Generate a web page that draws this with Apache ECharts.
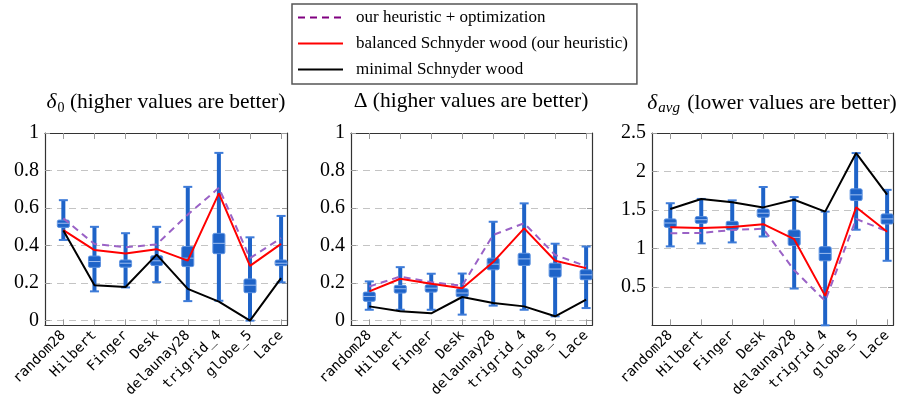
<!DOCTYPE html>
<html><head><meta charset="utf-8">
<script src="https://cdn.jsdelivr.net/npm/echarts@6/dist/echarts.min.js"></script>
<style>html,body{margin:0;padding:0;background:#fff}#c{width:902px;height:400px}</style>
</head><body><div id="c"></div>
<script>
const categories = ['random28','Hilbert','Finger','Desk','delaunay28','trigrid_4','globe_5','Lace'];
const seriesNames = ['our heuristic + optimization','balanced Schnyder wood (our heuristic)','minimal Schnyder wood'];

// Panel 1: delta_0
const d0Min  = [0.430, 0.156, 0.177, 0.205, 0.104, 0.106, 0.000, 0.204];
const d0Q1   = [0.497, 0.284, 0.285, 0.294, 0.288, 0.357, 0.149, 0.293];
const d0Med  = [0.519, 0.315, 0.306, 0.319, 0.333, 0.412, 0.189, 0.306];
const d0Q3   = [0.536, 0.344, 0.323, 0.346, 0.395, 0.465, 0.222, 0.323];
const d0Max  = [0.642, 0.500, 0.466, 0.500, 0.713, 0.894, 0.444, 0.558];
const d0Opt  = [0.545, 0.408, 0.391, 0.406, 0.565, 0.708, 0.333, 0.440];
const d0Bal  = [0.482, 0.376, 0.358, 0.381, 0.320, 0.678, 0.292, 0.409];
const d0Minm = [0.480, 0.188, 0.179, 0.352, 0.169, 0.101, 0.000, 0.227];

// Panel 2: Delta
const DMin  = [0.058, 0.058, 0.058, 0.032, 0.080, 0.058, 0.023, 0.067];
const DQ1   = [0.103, 0.147, 0.152, 0.127, 0.271, 0.294, 0.232, 0.218];
const DMed  = [0.129, 0.170, 0.173, 0.147, 0.301, 0.329, 0.275, 0.244];
const DQ3   = [0.152, 0.188, 0.191, 0.170, 0.333, 0.359, 0.306, 0.271];
const DMax  = [0.209, 0.285, 0.250, 0.251, 0.527, 0.625, 0.410, 0.395];
const DOpt  = [0.182, 0.235, 0.205, 0.186, 0.457, 0.519, 0.350, 0.290];
const DBal  = [0.156, 0.223, 0.196, 0.173, 0.312, 0.492, 0.319, 0.280];
const DMinm = [0.076, 0.050, 0.039, 0.126, 0.094, 0.076, 0.023, 0.112];

// Panel 3: delta_avg
const daMin  = [1.026, 1.065, 1.078, 1.155, 0.478, 0.000, 1.243, 0.839];
const daQ1   = [1.274, 1.326, 1.240, 1.406, 1.038, 0.839, 1.622, 1.317];
const daMed  = [1.330, 1.373, 1.296, 1.457, 1.143, 0.935, 1.696, 1.383];
const daQ3   = [1.383, 1.413, 1.352, 1.511, 1.238, 1.022, 1.774, 1.448];
const daMax  = [1.587, 1.643, 1.624, 1.798, 1.667, 1.478, 2.239, 1.761];
const daOpt  = [1.198, 1.200, 1.239, 1.255, 0.717, 0.317, 1.383, 1.222];
const daBal  = [1.274, 1.264, 1.277, 1.315, 1.120, 0.383, 1.535, 1.217];
const daMinm = [1.513, 1.643, 1.600, 1.533, 1.633, 1.478, 2.239, 1.700];

const yTicks01 = [0, 0.2, 0.4, 0.6, 0.8, 1];
const yTicksAvg = [0.5, 1, 1.5, 2, 2.5];
const catIdx = categories.map((c, i) => i);

const SERIF = "Liberation Serif";
const MONO = "DejaVu Sans Mono";
const BOX = '#1e63c8', EDGE = '#5a90e0', CAP = '#3d7bd8', MED = '#9dbdf0';
const C_OPT = '#9a62c6', C_BAL = '#ff0000', C_MIN = '#000000';

const panels = [
  {left: 45, width: 242, ymin: -0.025, ymax: 1, ticks: yTicks01,
   box: [d0Min, d0Q1, d0Med, d0Q3, d0Max], lines: [d0Opt, d0Bal, d0Minm]},
  {left: 351, width: 241, ymin: -0.025, ymax: 1, ticks: yTicks01,
   box: [DMin, DQ1, DMed, DQ3, DMax], lines: [DOpt, DBal, DMinm]},
  {left: 652, width: 241, ymin: 0, ymax: 2.5, ticks: yTicksAvg, interval: 0.5,
   box: [daMin, daQ1, daMed, daQ3, daMax], lines: [daOpt, daBal, daMinm]}
];

const grid = [], xAxis = [], yAxis = [], series = [];
const tickStyle = {color: '#9a9a9a', width: 1};
panels.forEach((p, k) => {
  grid.push({left: p.left, width: p.width, top: 133, height: 193, show: false});
  const xBase = {type: 'value', gridIndex: k, min: -0.59, max: 7.19,
    splitLine: {show: false},
    axisLine: {show: true, onZero: false, lineStyle: {color: '#333', width: 1.2}},
    axisTick: {show: true, inside: true, length: 6, customValues: catIdx, lineStyle: tickStyle}};
  xAxis.push(Object.assign({}, xBase, {position: 'bottom',
    axisLabel: {show: true, customValues: catIdx, rotate: 45, margin: 8,
      fontFamily: MONO, fontSize: 14, color: '#000',
      formatter: v => categories[Math.round(v)]}}));
  xAxis.push(Object.assign({}, xBase, {position: 'top', axisLabel: {show: false}}));
  const yBase = {type: 'value', gridIndex: k, min: p.ymin, max: p.ymax,
    axisLine: {show: true, onZero: false, lineStyle: {color: '#333', width: 1.2}},
    axisTick: {show: true, inside: true, length: 5, customValues: p.ticks, lineStyle: tickStyle}};
  if (p.interval) yBase.interval = p.interval;
  yAxis.push(Object.assign({}, yBase, {position: 'left',
    splitLine: {show: true, lineStyle: {color: '#c4c4c4', width: 1, type: [7, 5]}},
    axisLabel: {show: true, customValues: p.ticks, margin: 6, fontFamily: SERIF,
      fontSize: 20, color: '#000', formatter: v => String(Math.round(v * 10) / 10)}}));
  yAxis.push(Object.assign({}, yBase, {position: 'right', splitLine: {show: false}, axisLabel: {show: false}}));

  const boxData = categories.map((c, i) => [i, p.box[0][i], p.box[1][i], p.box[2][i], p.box[3][i], p.box[4][i]]);
  series.push({
    type: 'custom', xAxisIndex: 2 * k, yAxisIndex: 2 * k, clip: false, z: 2,
    encode: {x: 0, y: [1, 2, 3, 4, 5]},
    data: boxData,
    renderItem: function (params, api) {
      const x = api.value(0);
      const pMin = api.coord([x, api.value(1)]);
      const pQ1 = api.coord([x, api.value(2)]);
      const pMed = api.coord([x, api.value(3)]);
      const pQ3 = api.coord([x, api.value(4)]);
      const pMax = api.coord([x, api.value(5)]);
      const cx = pMin[0], bw = 12, cw = 9;
      return {type: 'group', children: [
        {type: 'line', shape: {x1: cx, y1: pMin[1], x2: cx, y2: pMax[1]}, style: {stroke: BOX, lineWidth: 4}},
        {type: 'line', shape: {x1: cx - cw / 2, y1: pMin[1], x2: cx + cw / 2, y2: pMin[1]}, style: {stroke: CAP, lineWidth: 2}},
        {type: 'line', shape: {x1: cx - cw / 2, y1: pMax[1], x2: cx + cw / 2, y2: pMax[1]}, style: {stroke: CAP, lineWidth: 2}},
        {type: 'rect', shape: {x: cx - bw / 2, y: pQ3[1], width: bw, height: pQ1[1] - pQ3[1], r: 1.5}, style: {fill: BOX, stroke: EDGE, lineWidth: 1}},
        {type: 'line', shape: {x1: cx - bw / 2, y1: pMed[1], x2: cx + bw / 2, y2: pMed[1]}, style: {stroke: MED, lineWidth: 1}}
      ]};
    }
  });
  const colors = [C_OPT, C_BAL, C_MIN];
  const types = [[7, 5], 'solid', 'solid'];
  p.lines.forEach((arr, j) => {
    series.push({
      type: 'line', name: seriesNames[j], xAxisIndex: 2 * k, yAxisIndex: 2 * k, z: 3 + j,
      symbol: 'none', silent: true, animation: false,
      data: arr.map((v, i) => [i, v]),
      lineStyle: {color: colors[j], width: 2, type: types[j]},
      itemStyle: {color: colors[j]}
    });
  });
});

const TF = 21.5;
const titleRich = {
  m: {fontFamily: SERIF, fontSize: TF, fontWeight: 'normal', color: '#000'},
  g: {fontFamily: SERIF, fontSize: TF, fontWeight: 'normal', fontStyle: 'italic', color: '#000'},
  s: {fontFamily: SERIF, fontSize: 14, fontWeight: 'normal', color: '#000', padding: [11, 0, 0, 1]},
  si: {fontFamily: SERIF, fontSize: 15, fontWeight: 'normal', fontStyle: 'italic', color: '#000', padding: [11, 2, 0, 1]}
};
const titles = [
  {x: 166, text: '{g|δ}{s|0}{m| (higher values are better)}'},
  {x: 471, text: '{m|Δ (higher values are better)}'},
  {x: 772, text: '{g|δ}{si|avg}{m| (lower values are better)}'}
];

const option = {
  animation: false,
  backgroundColor: '#fff',
  textStyle: {fontFamily: SERIF},
  title: titles.map(t => ({left: t.x, top: 90, textAlign: 'center', padding: 0,
    text: t.text, textStyle: {rich: titleRich, fontFamily: SERIF, fontWeight: 'normal', fontSize: TF, color: '#000'}})),
  legend: {
    orient: 'vertical', left: 292, top: 4,
    padding: [5, 9, 6, 5], borderColor: '#555', borderWidth: 1.5,
    itemWidth: 45, itemHeight: 14, itemGap: 9,
    itemStyle: {opacity: 0},
    textStyle: {fontFamily: SERIF, fontSize: 17, color: '#000', padding: [0, 0, 0, 8], lineHeight: 17},
    data: [
      {name: seriesNames[0], lineStyle: {color: '#800080', type: [7, 5], width: 2}},
      {name: seriesNames[1]},
      {name: seriesNames[2]}
    ]
  },
  grid, xAxis, yAxis, series
};
const chart = echarts.init(document.getElementById('c'), null, {renderer: 'canvas'});
chart.setOption(option);
</script></body></html>
